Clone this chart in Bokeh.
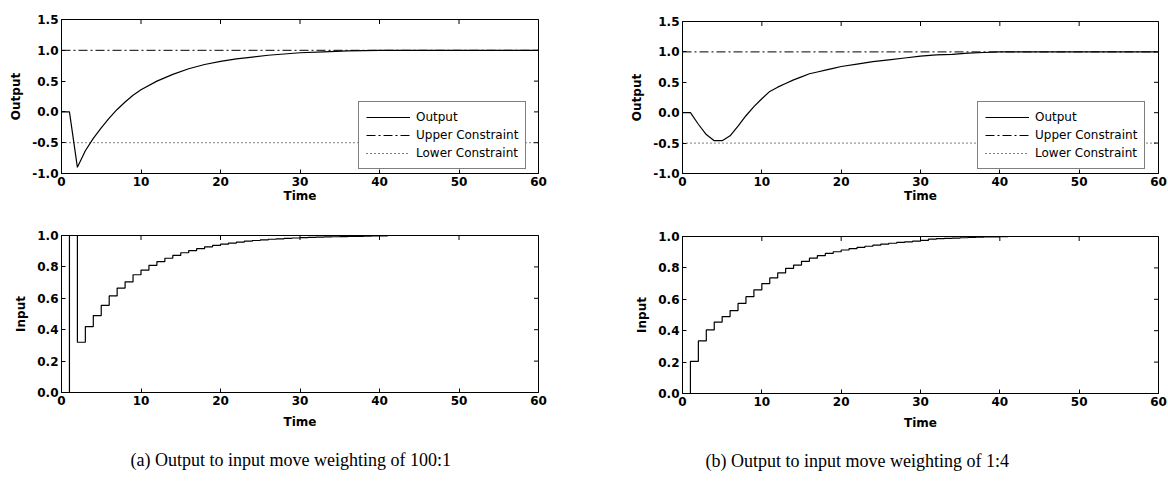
import math
from bokeh.plotting import figure
from bokeh.layouts import row, column
from bokeh.models import FixedTicker, Legend, LegendItem, Title, Range1d
from bokeh.embed import file_html
from bokeh.resources import INLINE

# ---------------- data ----------------
x_ticks = [0, 10, 20, 30, 40, 50, 60]
x_tick_labels = ["0", "10", "20", "30", "40", "50", "60"]
out_ticks = [-1.0, -0.5, 0.0, 0.5, 1.0, 1.5]
out_tick_labels = ["-1.0", "-0.5", "0.0", "0.5", "1.0", "1.5"]
in_ticks = [0.0, 0.2, 0.4, 0.6, 0.8, 1.0]
in_tick_labels = ["0.0", "0.2", "0.4", "0.6", "0.8", "1.0"]

constraint_time = [0, 60]
upper_constraint = [1.0, 1.0]
lower_constraint = [-0.5, -0.5]

# (a) weighting 100:1
time_out_a = [0, 1, 2, 3, 4, 5, 6, 7, 8, 9, 10, 12, 14, 16, 18, 20, 22, 24, 26, 28, 30, 33, 36, 40, 50, 60]
output_a = [0.0, 0.0, -0.90, -0.63, -0.43, -0.26, -0.10, 0.04, 0.16, 0.27, 0.36, 0.50, 0.61, 0.70, 0.77,
            0.82, 0.86, 0.89, 0.92, 0.94, 0.96, 0.975, 0.99, 1.0, 1.0, 1.0]

input_time = [0, 1, 2, 3, 4, 5, 6, 7, 8, 9, 10, 11, 12, 13, 14, 15, 16, 17, 18, 19, 20, 21, 22, 23, 24,
              25, 26, 27, 28, 29, 30, 31, 32, 33, 34, 35, 36, 37, 38, 39, 40, 41, 60]
input_a = [0.0, 1.0, 0.32, 0.42, 0.49, 0.555, 0.615, 0.665, 0.705, 0.75, 0.78, 0.81, 0.833, 0.855, 0.873,
           0.89, 0.904, 0.917, 0.928, 0.937, 0.945, 0.952, 0.958, 0.964, 0.968, 0.972, 0.976, 0.979, 0.982,
           0.984, 0.986, 0.988, 0.99, 0.991, 0.992, 0.993, 0.994, 0.995, 0.996, 0.997, 0.998, 1.0, 1.0]

# (b) weighting 1:4
time_out_b = [0, 1, 2, 3, 4, 5, 6, 7, 8, 9, 10, 11, 12, 13, 14, 15, 16, 17, 18, 19, 20, 22, 24, 26, 28,
              30, 32, 34, 36, 38, 40, 50, 60]
output_b = [0.0, 0.0, -0.19, -0.36, -0.46, -0.46, -0.38, -0.22, -0.05, 0.10, 0.23, 0.35, 0.42, 0.48, 0.54,
            0.59, 0.64, 0.67, 0.70, 0.73, 0.76, 0.80, 0.84, 0.87, 0.90, 0.93, 0.95, 0.96, 0.98, 0.99,
            1.0, 1.0, 1.0]
input_b = [0.0, 0.205, 0.335, 0.405, 0.455, 0.49, 0.528, 0.574, 0.617, 0.66, 0.70, 0.736, 0.768, 0.797,
           0.818, 0.842, 0.862, 0.878, 0.892, 0.903, 0.914, 0.923, 0.931, 0.938, 0.945, 0.952, 0.957,
           0.962, 0.966, 0.97, 0.975, 0.983, 0.986, 0.988, 0.99, 0.992, 0.994, 0.996, 0.997, 0.998,
           0.999, 1.0, 1.0]

captions = ["(a) Output to input move weighting of 100:1", "(b) Output to input move weighting of 1:4"]

AX_FONT = "DejaVu Sans"


def style_axis(ax, ticks, labels):
    ax.ticker = FixedTicker(ticks=ticks)
    ax.major_label_overrides = {t: l for t, l in zip(ticks, labels)}
    ax.major_tick_in = 4
    ax.major_tick_out = 0
    ax.minor_tick_in = 0
    ax.minor_tick_out = 0
    ax.axis_line_color = "black"
    ax.major_tick_line_color = "black"
    ax.major_label_text_font = AX_FONT
    ax.major_label_text_font_style = "bold"
    ax.major_label_text_color = "black"
    ax.major_label_text_font_size = "12px"
    ax.major_label_standoff = 3
    ax.axis_label_text_font = AX_FONT
    ax.axis_label_text_font_size = "12px"
    ax.axis_label_text_font_style = "bold"
    ax.axis_label_text_color = "black"


def make_fig(fw, fh, left, right, top, bottom, yr, yticks, ylabels, ylabel, xlabel_standoff):
    p = figure(frame_width=fw, frame_height=fh, min_border_left=left, min_border_right=right,
               min_border_top=top, min_border_bottom=bottom, output_backend="svg",
               toolbar_location=None, x_range=Range1d(0, 60), y_range=Range1d(*yr))
    p.xgrid.visible = False
    p.ygrid.visible = False
    p.outline_line_color = "black"
    p.outline_line_width = 1
    p.background_fill_color = "white"
    p.border_fill_color = "white"
    style_axis(p.xaxis[0], x_ticks, x_tick_labels)
    style_axis(p.yaxis[0], yticks, ylabels)
    p.xaxis[0].axis_label = "Time"
    p.yaxis[0].axis_label = ylabel
    p.xaxis[0].axis_label_standoff = xlabel_standoff
    p.yaxis[0].axis_label_standoff = 6
    # box ticks on the top and right edges (clipped half-dashes pointing inward)
    p.scatter(x_ticks, [yr[1]] * len(x_ticks), marker="dash", angle=math.pi / 2, size=9,
              line_color="black", line_width=1)
    p.scatter([60] * len(yticks), yticks, marker="dash", size=9, line_color="black", line_width=1)
    return p


def output_panel(fw, fh, left, top, t, y, leg_x):
    p = make_fig(fw, fh, left, 10, top, 40, (-1.0, 1.5), out_ticks, out_tick_labels, "Output", 0)
    r_out = p.line(t, y, line_color="black", line_width=1.2)
    r_up = p.line(constraint_time, upper_constraint, line_color="black", line_width=1,
                  line_dash="9 3 2 3")
    r_lo = p.line(constraint_time, lower_constraint, line_color="black", line_width=1,
                  line_dash="1 3")
    legend = Legend(items=[LegendItem(label="Output", renderers=[r_out]),
                           LegendItem(label="Upper Constraint", renderers=[r_up]),
                           LegendItem(label="Lower Constraint", renderers=[r_lo])],
                    location=(leg_x, 4))
    legend.margin = 0
    legend.padding = 7
    legend.spacing = 2
    legend.glyph_width = 44
    legend.glyph_height = 16
    legend.label_height = 16
    legend.label_standoff = 6
    legend.label_text_font = AX_FONT
    legend.label_text_font_size = "12px"
    legend.label_text_color = "black"
    legend.border_line_color = "black"
    legend.border_line_width = 1
    legend.background_fill_alpha = 1
    p.add_layout(legend, "center")
    return p


def input_panel(fw, fh, left, top, bottom, t, u, caption, cap_offset):
    p = make_fig(fw, fh, left, 10, top, bottom, (0.0, 1.0), in_ticks, in_tick_labels, "Input", 7)
    p.step(t, u, mode="after", line_color="black", line_width=1.2)
    cap = Title(text=caption, align="left", offset=cap_offset, text_font="Liberation Serif",
                text_font_size="18px", text_font_style="normal", standoff=33, text_color="black")
    p.add_layout(cap, "below")
    return p


pa_out = output_panel(477, 154, 61, 19, time_out_a, output_a, 297)
pa_in = input_panel(477, 157, 61, 22, 90, input_time, input_a, captions[0], 69)
pb_out = output_panel(476, 152, 134, 21, time_out_b, output_b, 295)
pb_in = input_panel(476, 157, 134, 23, 89, input_time, input_b, captions[1], 23)

layout = row(column(pa_out, pa_in, spacing=0), column(pb_out, pb_in, spacing=0), spacing=0)

open("out.html", "w").write(file_html(layout, INLINE))
